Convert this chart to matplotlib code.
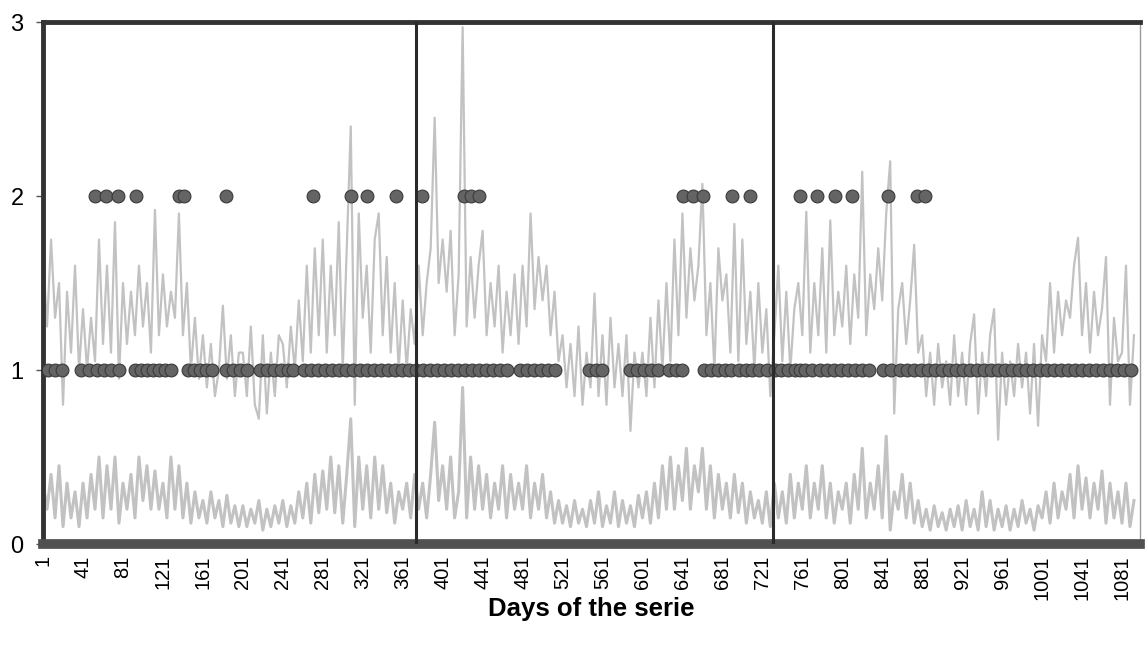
import numpy as np
import matplotlib
matplotlib.use('Agg')
import matplotlib.pyplot as plt

plt.rcParams['font.family'] = ['Liberation Sans', 'DejaVu Sans']

# upper gray series, one value every 4 days (day 1, 5, 9, ...)
upper = [
    1.65, 1.25, 1.75, 1.3, 1.5, 0.8, 1.45, 1.1, 1.6, 1.0,
    1.35, 1.0, 1.3, 1.05, 1.75, 1.15, 1.6, 1.1, 1.85, 0.95,
    1.5, 1.15, 1.45, 1.2, 1.6, 1.25, 1.5, 1.1, 1.92, 1.2,
    1.55, 1.25, 1.45, 1.3, 1.9, 1.2, 1.5, 1.0, 1.3, 0.95,
    1.2, 0.9, 1.15, 0.85, 1.0, 1.37, 0.95, 1.2, 0.85, 1.1,
    1.1, 0.85, 1.25, 0.8, 0.72, 1.2, 0.75, 1.1, 0.85, 1.2,
    1.15, 0.9, 1.25, 1.0, 1.4, 1.05, 1.6, 1.1, 1.7, 1.2,
    1.75, 1.1, 1.6, 1.2, 1.85, 1.0, 1.7, 2.4, 0.8, 1.9,
    1.3, 1.6, 1.1, 1.75, 1.9, 1.2, 1.65, 1.1, 1.5, 1.0,
    1.4, 1.0, 1.35, 1.15, 1.6, 1.2, 1.5, 1.7, 2.45, 1.5,
    1.75, 1.45, 1.8, 1.2, 1.55, 2.97, 1.25, 1.65, 1.3, 1.6,
    1.8, 1.2, 1.5, 1.25, 1.6, 1.1, 1.45, 1.2, 1.55, 1.15,
    1.6, 1.25, 1.9, 1.35, 1.65, 1.4, 1.6, 1.2, 1.45, 1.05,
    1.2, 0.9, 1.15, 0.85, 1.25, 0.8, 1.1, 0.9, 1.44, 0.85,
    1.2, 0.8, 1.3, 0.9, 1.15, 0.85, 1.2, 0.65, 1.1, 0.9,
    1.1, 0.85, 1.3, 0.9, 1.4, 1.0, 1.5, 1.05, 1.75, 1.2,
    1.9, 1.3, 1.7, 1.4, 1.6, 2.07, 1.2, 1.5, 1.0, 1.7,
    1.4, 1.55, 1.1, 1.84, 1.05, 1.75, 1.15, 1.45, 1.0, 1.5,
    1.1, 1.35, 0.85, 1.2, 1.6, 1.05, 1.45, 1.0, 1.35, 1.5,
    1.2, 1.91, 1.1, 1.5, 1.2, 1.7, 1.1, 1.86, 1.2, 1.45,
    1.25, 1.6, 1.15, 1.55, 1.3, 2.14, 1.2, 1.55, 1.35, 1.7,
    1.4, 1.9, 2.2, 0.75, 1.35, 1.5, 1.15, 1.4, 1.72, 1.1,
    1.2, 0.85, 1.1, 0.8, 1.15, 0.9, 1.05, 0.8, 1.2, 0.85,
    1.1, 0.8, 1.15, 1.32, 0.75, 1.1, 0.85, 1.2, 1.35, 0.6,
    1.1, 0.8, 1.05, 0.85, 1.15, 0.9, 1.1, 0.75, 1.15, 0.68,
    1.2, 1.05, 1.5, 1.1, 1.45, 1.2, 1.4, 1.3, 1.6, 1.76,
    1.2, 1.5, 1.1, 1.45, 1.2, 1.35, 1.65, 0.8, 1.3, 1.05,
    1.1, 1.6, 0.8, 1.2,
]

# lower gray series, same days
lower = [
    0.35, 0.2, 0.4, 0.15, 0.45, 0.1, 0.35, 0.15, 0.3, 0.1,
    0.35, 0.15, 0.4, 0.2, 0.5, 0.15, 0.45, 0.2, 0.5, 0.12,
    0.35, 0.2, 0.4, 0.15, 0.5, 0.25, 0.45, 0.2, 0.42, 0.2,
    0.35, 0.15, 0.5, 0.2, 0.45, 0.15, 0.35, 0.12, 0.3, 0.15,
    0.25, 0.12, 0.3, 0.15, 0.25, 0.1, 0.28, 0.12, 0.22, 0.1,
    0.22, 0.1, 0.2, 0.12, 0.25, 0.08, 0.2, 0.1, 0.22, 0.12,
    0.25, 0.1, 0.22, 0.12, 0.3, 0.15, 0.35, 0.12, 0.4, 0.18,
    0.42, 0.2, 0.5, 0.18, 0.45, 0.12, 0.4, 0.72, 0.1, 0.5,
    0.2, 0.45, 0.15, 0.5, 0.2, 0.45, 0.18, 0.35, 0.12, 0.3,
    0.2, 0.35, 0.15, 0.4, 0.2, 0.35, 0.15, 0.4, 0.7, 0.25,
    0.45, 0.2, 0.5, 0.15, 0.3, 0.9, 0.15, 0.5, 0.2, 0.45,
    0.2, 0.4, 0.15, 0.35, 0.2, 0.45, 0.15, 0.4, 0.2, 0.35,
    0.2, 0.45, 0.15, 0.35, 0.2, 0.4, 0.15, 0.3, 0.12, 0.25,
    0.12, 0.22, 0.1, 0.25, 0.12, 0.2, 0.1, 0.25, 0.12, 0.3,
    0.1, 0.22, 0.12, 0.3, 0.1, 0.25, 0.12, 0.22, 0.1, 0.28,
    0.15, 0.3, 0.12, 0.35, 0.15, 0.45, 0.2, 0.5, 0.2, 0.45,
    0.25, 0.55, 0.2, 0.45, 0.3, 0.55, 0.2, 0.45, 0.15, 0.4,
    0.2, 0.35, 0.15, 0.4, 0.18, 0.35, 0.12, 0.3, 0.15, 0.25,
    0.12, 0.3, 0.1, 0.35, 0.15, 0.3, 0.12, 0.4, 0.15, 0.35,
    0.2, 0.45, 0.15, 0.35, 0.2, 0.45, 0.15, 0.35, 0.12, 0.3,
    0.2, 0.35, 0.12, 0.4, 0.2, 0.55, 0.15, 0.35, 0.2, 0.45,
    0.15, 0.62, 0.08, 0.3, 0.2, 0.4, 0.15, 0.35, 0.12, 0.25,
    0.1, 0.2, 0.08, 0.22, 0.1, 0.18, 0.08, 0.2, 0.1, 0.22,
    0.08, 0.25, 0.1, 0.2, 0.08, 0.3, 0.1, 0.25, 0.08, 0.2,
    0.1, 0.22, 0.08, 0.2, 0.1, 0.25, 0.12, 0.2, 0.08, 0.22,
    0.15, 0.3, 0.12, 0.35, 0.15, 0.3, 0.2, 0.4, 0.15, 0.45,
    0.2, 0.38, 0.15, 0.35, 0.2, 0.42, 0.12, 0.35, 0.15, 0.3,
    0.12, 0.35, 0.1, 0.25,
]
days = np.arange(1, 4 * len(upper), 4)

# days marked with a dot at level 2 and at level 1
dots_2 = [53, 64, 76, 94, 137, 142, 184, 271, 309, 325, 354, 380, 422, 429, 437,
          642, 652, 662, 691, 709, 759, 776, 794, 811, 847, 876, 884]
dots_1 = [6, 13, 20, 39, 47, 55, 62, 69, 77, 93, 99, 105, 111, 117, 123, 129,
          146, 152, 158, 164, 170, 184, 191, 198, 205, 218, 225, 232, 239, 246, 251,
          262, 269, 276, 283, 290, 297, 304, 311, 318, 325, 332, 339, 346, 353, 360,
          367, 374, 381, 388, 395, 402, 409, 416, 423, 430, 437, 444, 451, 458, 465,
          478, 485, 492, 499, 506, 513, 547, 554, 561, 589, 596, 603, 610, 617,
          628, 635, 641, 663, 670, 677, 684, 690, 698, 705, 711, 718, 726,
          734, 740, 747, 754, 759, 764, 771, 779, 786, 793, 800, 807, 814, 821, 828,
          842, 850, 859, 866, 873, 880, 887, 894, 901, 908, 915, 922, 929, 936, 943,
          950, 957, 964, 971, 978, 985, 992, 999, 1006, 1013, 1020, 1027, 1034, 1041,
          1048, 1055, 1062, 1069, 1076, 1083, 1090]

year_breaks = [374, 732]
xtick_days = list(range(1, 1082, 40))

fig = plt.figure(figsize=(11.45, 6.56), dpi=100)
ax = fig.add_axes([0.0376, 0.1707, 0.958, 0.7957])

ax.plot(days, upper, color='#c2c2c2', lw=1.6, zorder=2)
ax.plot(days, lower, color='#c2c2c2', lw=2.2, zorder=2)
ax.scatter(dots_1, [1] * len(dots_1), s=85, color='#646464', edgecolors='#3a3a3a',
           linewidths=0.8, zorder=3)
ax.scatter(dots_2, [2] * len(dots_2), s=85, color='#646464', edgecolors='#3a3a3a',
           linewidths=0.8, zorder=3)
for b in year_breaks:
    ax.axvline(b, color='#2a2a2a', lw=2.2, zorder=4)

ax.set_xlim(2, 1099)
ax.set_ylim(0, 3)
ax.set_yticks([0, 1, 2, 3])
ax.set_yticklabels(['0', '1', '2', '3'], fontsize=17)
ax.set_xticks(xtick_days)
ax.set_xticklabels([str(d) for d in xtick_days], rotation=90, fontsize=14.5)
ax.tick_params(axis='x', length=0, pad=8)
ax.tick_params(axis='y', length=5, width=1, color='#555555', pad=9)

ax.spines['left'].set_linewidth(3.5)
ax.spines['left'].set_color('#333333')
ax.spines['top'].set_linewidth(3.5)
ax.spines['top'].set_color('#333333')
ax.spines['bottom'].set_linewidth(7)
ax.spines['bottom'].set_color('#505050')
ax.spines['right'].set_linewidth(1)
ax.spines['right'].set_color('#999999')

ax.set_xlabel('Days of the serie', fontsize=18.5, fontweight='bold', labelpad=-2)

fig.savefig('out.png', dpi=100)
